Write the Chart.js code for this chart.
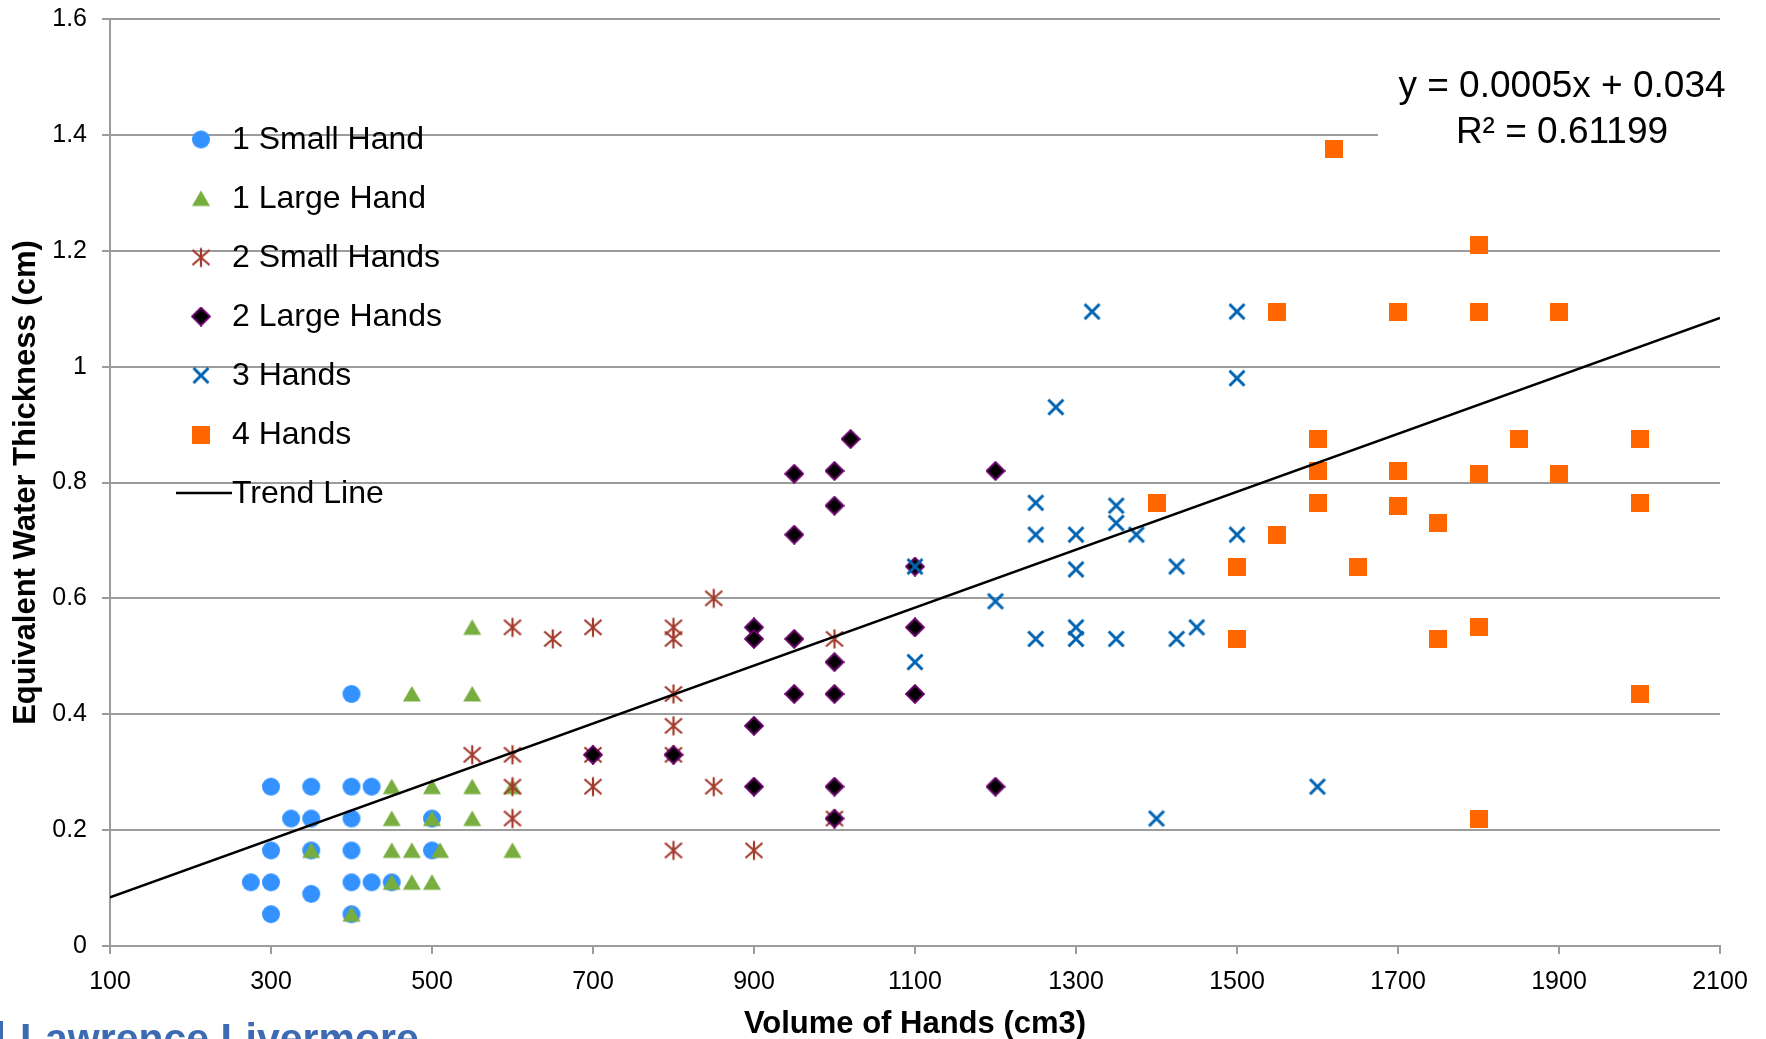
<!DOCTYPE html>
<html>
<head>
<meta charset="utf-8">
<script src="https://cdn.jsdelivr.net/npm/chart.js@4.4.1/dist/chart.umd.min.js"></script>
<style>
  html, body { margin: 0; padding: 0; background: #fff; }
  #wrap { width: 1766px; height: 1039px; position: relative; }
</style>
</head>
<body>
<div id="wrap"><canvas id="c" width="1766" height="1039"></canvas></div>
<script>
// ---------------- DATA ----------------
const seriesNames = ['1 Small Hand', '1 Large Hand', '2 Small Hands', '2 Large Hands', '3 Hands', '4 Hands'];

const smallHand1X = [275,300,300,300,300,325,350,350,350,350,400,400,400,400,400,400,425,425,450,500,500];
const smallHand1Y = [0.11,0.275,0.165,0.11,0.055,0.22,0.275,0.22,0.165,0.09,0.435,0.275,0.22,0.165,0.11,0.055,0.275,0.11,0.11,0.22,0.165];

const largeHand1X = [550,475,550,450,500,550,600,450,500,550,350,450,475,510,600,450,475,500,400];
const largeHand1Y = [0.55,0.435,0.435,0.275,0.275,0.275,0.275,0.22,0.22,0.22,0.165,0.165,0.165,0.165,0.165,0.11,0.11,0.11,0.055];

const smallHands2X = [550,600,600,600,600,650,700,700,700,800,800,800,800,800,800,850,850,900,1000,1000];
const smallHands2Y = [0.33,0.55,0.33,0.275,0.22,0.53,0.55,0.33,0.275,0.55,0.53,0.435,0.38,0.33,0.165,0.6,0.275,0.165,0.53,0.22];

const largeHands2X = [700,800,900,900,900,900,950,950,950,950,1000,1000,1000,1000,1000,1000,1020,1100,1100,1100,1200,1200];
const largeHands2Y = [0.33,0.33,0.55,0.53,0.38,0.275,0.815,0.71,0.53,0.435,0.82,0.76,0.49,0.435,0.275,0.22,0.875,0.655,0.55,0.435,0.82,0.275];

const hands3X = [1100,1100,1200,1250,1250,1250,1275,1300,1300,1300,1300,1320,1350,1350,1350,1375,1400,1425,1425,1450,1500,1500,1500,1600];
const hands3Y = [0.655,0.49,0.595,0.765,0.71,0.53,0.93,0.71,0.65,0.55,0.53,1.095,0.76,0.73,0.53,0.71,0.22,0.655,0.53,0.55,1.095,0.98,0.71,0.275];

const hands4X = [1400,1500,1500,1550,1550,1600,1600,1600,1620,1650,1700,1700,1700,1750,1750,1800,1800,1800,1800,1800,1850,1900,1900,2000,2000,2000];
const hands4Y = [0.765,0.655,0.53,1.095,0.71,0.875,0.82,0.765,1.375,0.655,1.095,0.82,0.76,0.73,0.53,1.21,1.095,0.815,0.55,0.22,0.875,1.095,0.815,0.875,0.765,0.435];

const trendName = 'Trend Line';
const trendX = [100, 2100];
const trendY = [0.084, 1.084];
const equationLines = ['y = 0.0005x + 0.034', 'R\u00B2 = 0.61199'];

const xTickValues = [100,300,500,700,900,1100,1300,1500,1700,1900,2100];
const xTickLabels = ['100','300','500','700','900','1100','1300','1500','1700','1900','2100'];
const yTickValues = [0,0.2,0.4,0.6,0.8,1,1.2,1.4,1.6];
const yTickLabels = ['0','0.2','0.4','0.6','0.8','1','1.2','1.4','1.6'];

const xTitle = 'Volume of Hands (cm3)';
const yTitle = 'Equivalent Water Thickness (cm)';
const footerText = 'Lawrence Livermore';

// ---------------- MARKERS ----------------
const FONT = "'Liberation Sans', Arial, Helvetica, sans-serif";
function mk(w, h, fn) {
  const c = document.createElement('canvas');
  c.width = w; c.height = h;
  fn(c.getContext('2d'));
  return c;
}
const mCircle = mk(20, 20, g => { g.fillStyle = '#3392ff'; g.beginPath(); g.arc(10, 10, 9, 0, Math.PI * 2); g.fill(); });
const mTriangle = mk(20, 20, g => { g.fillStyle = '#78ad3f'; g.beginPath(); g.moveTo(10, 2); g.lineTo(19, 17.5); g.lineTo(1, 17.5); g.closePath(); g.fill(); });
const mStar = mk(22, 22, g => { g.strokeStyle = '#a33a2c'; g.lineWidth = 2.2; g.beginPath();
  g.moveTo(11, 1.5); g.lineTo(11, 20.5); g.moveTo(2.5, 3.5); g.lineTo(19.5, 18.5); g.moveTo(19.5, 3.5); g.lineTo(2.5, 18.5); g.stroke(); });
const mDiamond = mk(20, 20, g => { g.fillStyle = '#000'; g.strokeStyle = '#660066'; g.lineWidth = 2; g.beginPath();
  g.moveTo(10, 1.2); g.lineTo(18.8, 10); g.lineTo(10, 18.8); g.lineTo(1.2, 10); g.closePath(); g.fill(); g.stroke(); });
const mX = mk(20, 20, g => { g.strokeStyle = '#0063b1'; g.lineWidth = 3; g.beginPath();
  g.moveTo(2.5, 2.5); g.lineTo(17.5, 17.5); g.moveTo(17.5, 2.5); g.lineTo(2.5, 17.5); g.stroke(); });
const mSquare = mk(18, 18, g => { g.fillStyle = '#ff6600'; g.fillRect(0, 0, 18, 18); });
const markers = [mCircle, mTriangle, mStar, mDiamond, mX, mSquare];

function pts(xs, ys) { return xs.map((x, i) => ({ x: x, y: ys[i] })); }
const seriesX = [smallHand1X, largeHand1X, smallHands2X, largeHands2X, hands3X, hands4X];
const seriesY = [smallHand1Y, largeHand1Y, smallHands2Y, largeHands2Y, hands3Y, hands4Y];

const datasets = seriesNames.map((name, i) => ({
  label: name,
  data: pts(seriesX[i], seriesY[i]),
  pointStyle: markers[i],
  pointRadius: 10,
  showLine: false,
  order: 6 - i
}));
datasets.push({
  label: trendName,
  data: pts(trendX, trendY),
  showLine: true,
  borderColor: '#000',
  borderWidth: 2.5,
  pointRadius: 0,
  order: 0
});

// ---------------- PLUGIN: legend, equation, footer ----------------
const overlay = {
  id: 'overlay',
  afterDraw(chart) {
    const ctx = chart.ctx;
    ctx.save();
    // legend
    const rowY = [139.5, 198.5, 257.5, 316.5, 375.5, 434.5, 493];
    ctx.font = '32px ' + FONT;
    ctx.fillStyle = '#000';
    ctx.textBaseline = 'middle';
    ctx.textAlign = 'left';
    for (let i = 0; i < seriesNames.length; i++) {
      const m = markers[i];
      ctx.drawImage(m, 201 - m.width / 2, rowY[i] - m.height / 2);
      ctx.fillText(seriesNames[i], 232, rowY[i] + 1);
    }
    ctx.strokeStyle = '#000';
    ctx.lineWidth = 2.5;
    ctx.beginPath();
    ctx.moveTo(176, rowY[6]); ctx.lineTo(232, rowY[6]); ctx.stroke();
    ctx.fillText(trendName, 232, rowY[6] + 1);

    // equation box
    ctx.fillStyle = '#fff';
    ctx.fillRect(1378, 45, 388, 110);
    ctx.fillStyle = '#000';
    ctx.font = '37px ' + FONT;
    ctx.textAlign = 'center';
    ctx.fillText(equationLines[0], 1562, 87);
    ctx.fillText(equationLines[1], 1562, 133);

    // footer logo text (cut off at bottom)
    ctx.fillStyle = '#3d6bb3';
    ctx.fillRect(0, 1021, 3, 18);
    ctx.font = 'bold 41px ' + FONT;
    ctx.textAlign = 'left';
    ctx.textBaseline = 'alphabetic';
    ctx.fillText(footerText, 20, 1052);
    ctx.restore();
  }
};

// ---------------- CHART ----------------
const gridColor = '#9c9c9c';
new Chart(document.getElementById('c'), {
  type: 'scatter',
  data: { datasets: datasets },
  options: {
    responsive: false,
    animation: false,
    devicePixelRatio: 1,
    layout: { padding: { left: 0, right: 46, top: 19, bottom: 0 } },
    plugins: { legend: { display: false }, tooltip: { enabled: false } },
    scales: {
      x: {
        type: 'linear',
        min: 100, max: 2100,
        afterFit(s) { s.height = 93; s.paddingLeft = 0; s.paddingRight = 0; },
        afterBuildTicks(s) { s.ticks = xTickValues.map(v => ({ value: v })); },
        ticks: {
          color: '#000',
          font: { family: FONT, size: 25 },
          padding: 13,
          maxRotation: 0,
          autoSkip: false,
          callback(v) { const i = xTickValues.indexOf(v); return i >= 0 ? xTickLabels[i] : ''; }
        },
        grid: { drawOnChartArea: false, drawTicks: true, tickLength: 8, color: gridColor, lineWidth: 2 },
        border: { display: true, color: gridColor, width: 2 },
        title: { display: true, text: xTitle, color: '#000', font: { family: FONT, size: 31, weight: 'bold' }, padding: { top: 0, bottom: -4 } }
      },
      y: {
        type: 'linear',
        min: 0, max: 1.6,
        afterFit(s) { s.width = 110; s.paddingTop = 0; s.paddingBottom = 0; },
        afterBuildTicks(s) { s.ticks = yTickValues.map(v => ({ value: v })); },
        ticks: {
          color: '#000',
          font: { family: FONT, size: 25 },
          padding: 15,
          autoSkip: false,
          callback(v) { const i = yTickValues.indexOf(v); return i >= 0 ? yTickLabels[i] : ''; }
        },
        grid: { drawOnChartArea: true, drawTicks: true, tickLength: 8, color: gridColor, lineWidth: 2 },
        border: { display: true, color: gridColor, width: 2 },
        title: { display: true, text: yTitle, color: '#000', font: { family: FONT, size: 31, weight: 'bold' }, padding: { top: 8, bottom: 0 } }
      }
    }
  },
  plugins: [overlay]
});
</script>
</body>
</html>
